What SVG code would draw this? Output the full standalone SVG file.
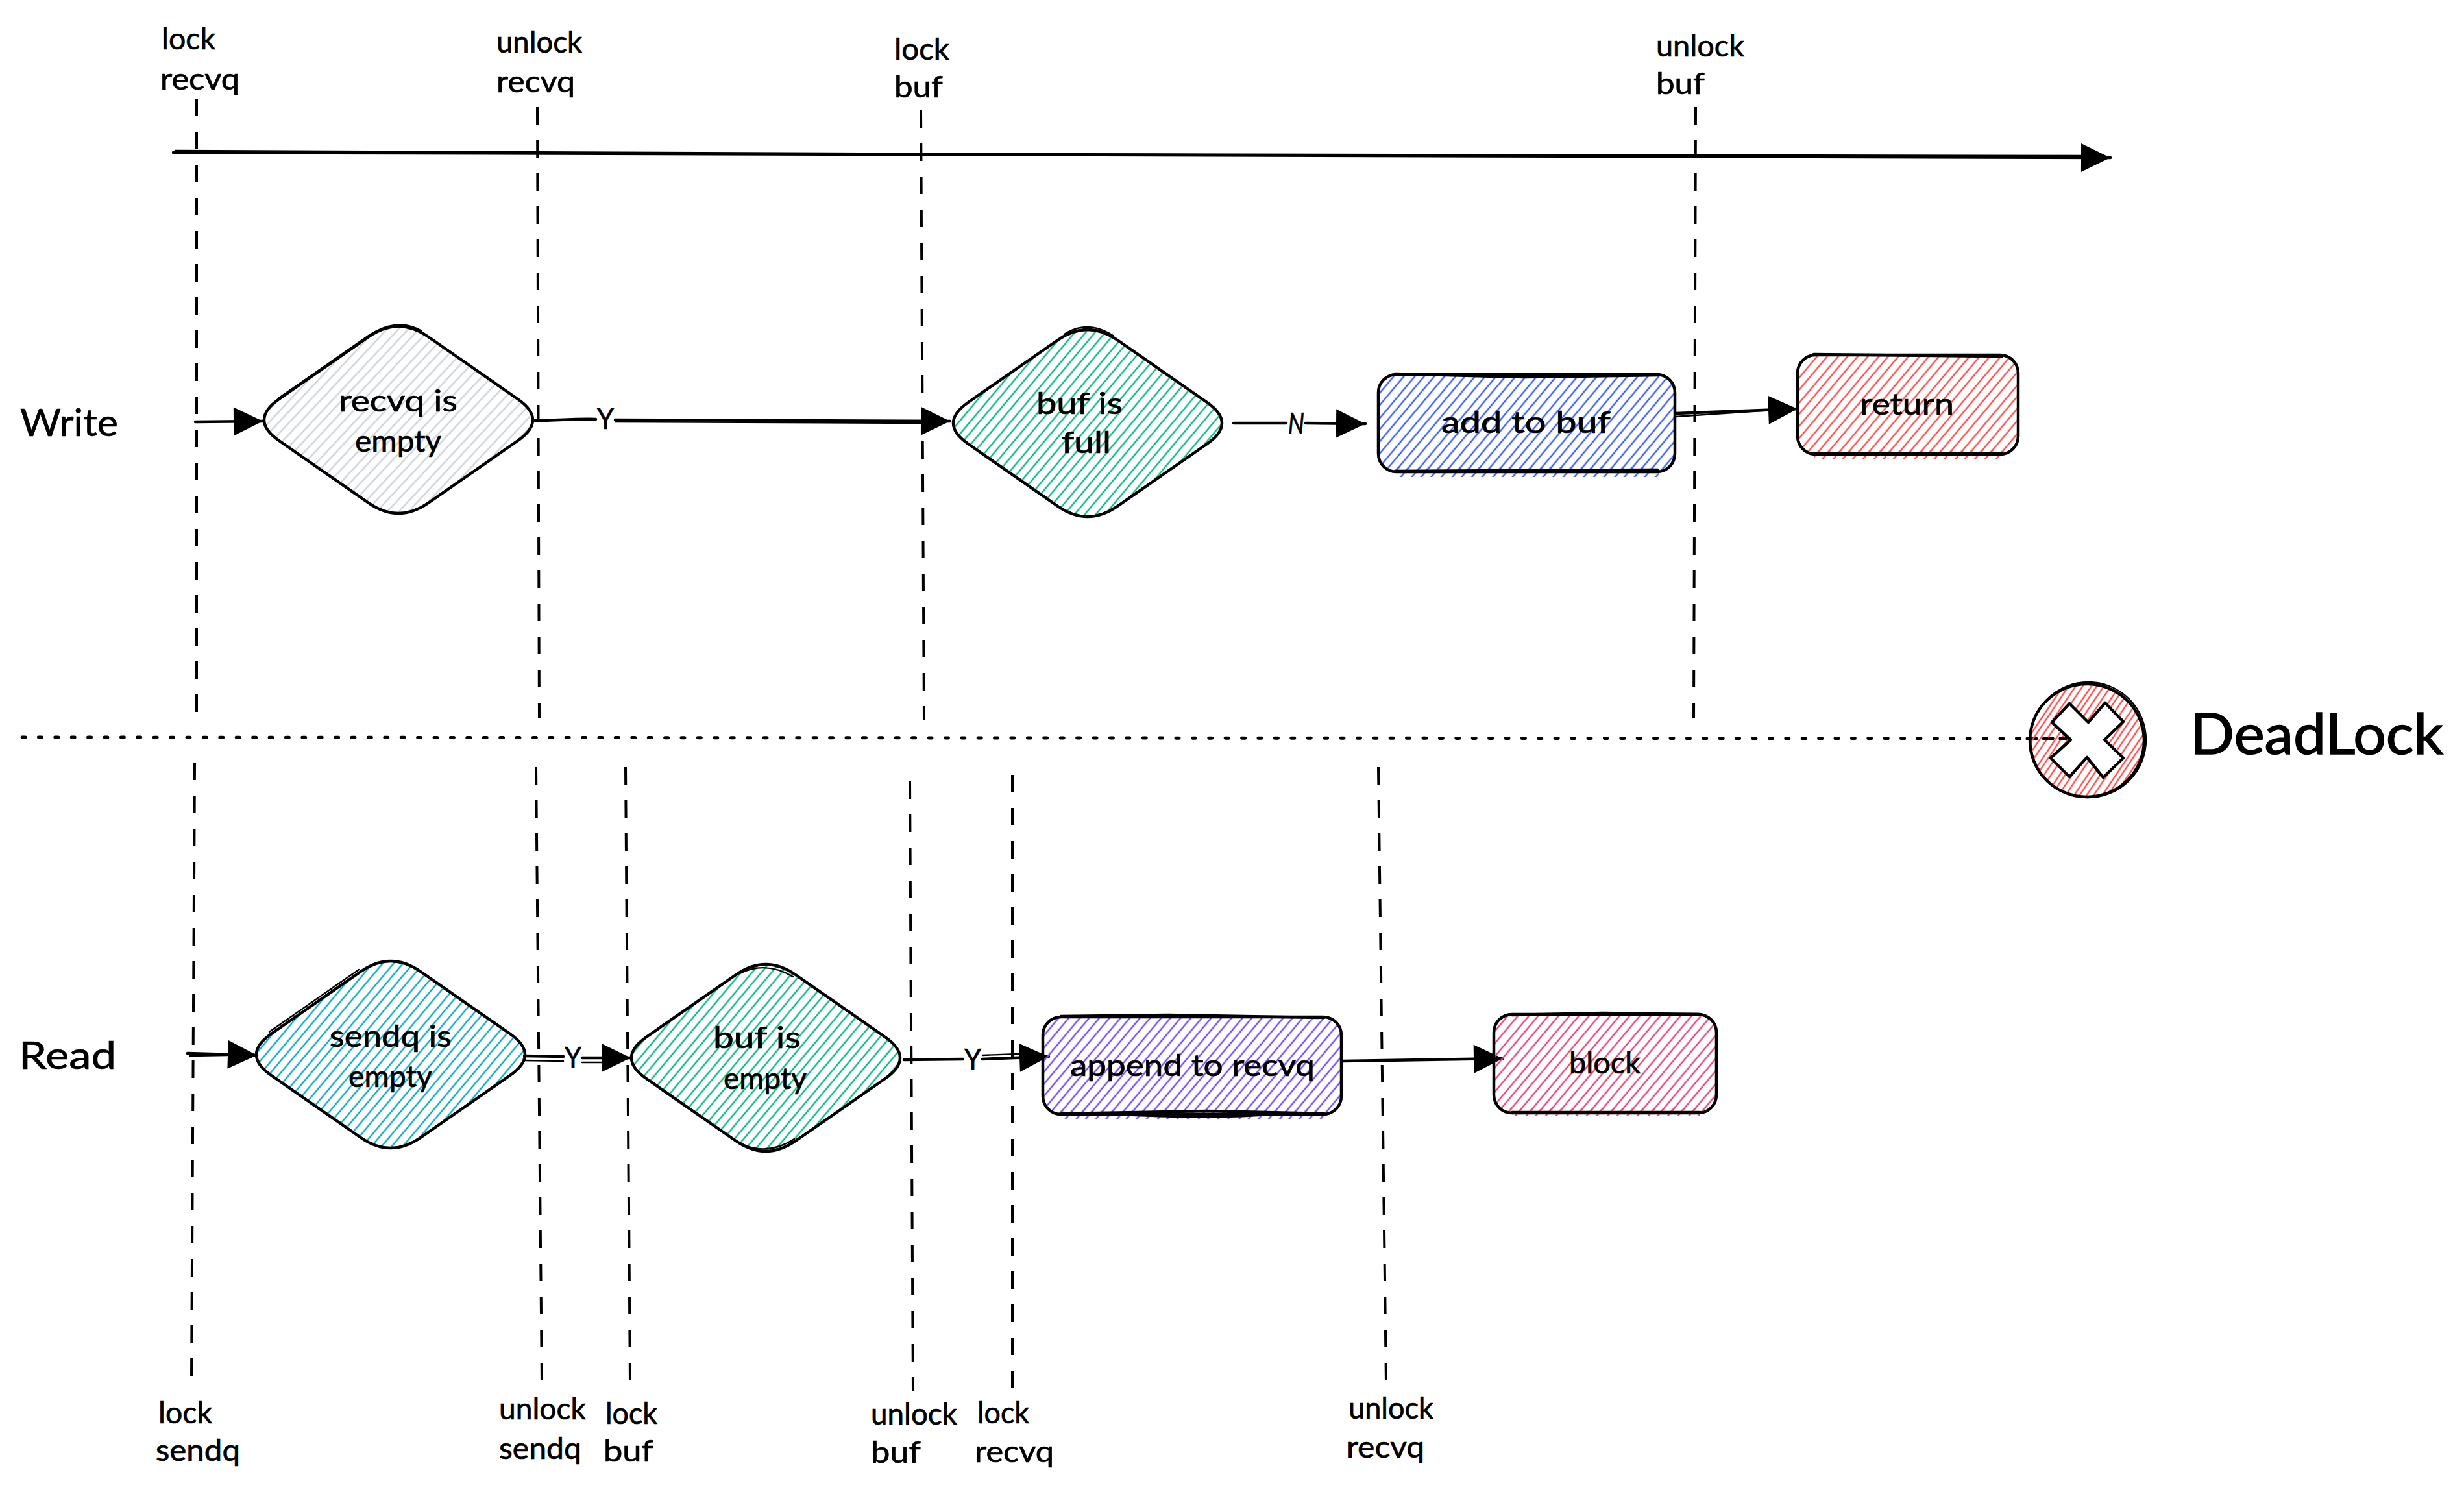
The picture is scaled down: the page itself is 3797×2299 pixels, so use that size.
<svg xmlns="http://www.w3.org/2000/svg" width="3797" height="2299" viewBox="0 0 3797 2299">
<style>
text{font-family:"Lato","Noto Sans",sans-serif;font-size:46px;fill:#000;stroke:#000;stroke-width:.7px;text-anchor:start}
.ink{fill:none;stroke:#000;stroke-width:4.5;stroke-linecap:round;stroke-linejoin:round}
.shape{stroke:#000;stroke-width:4.5;stroke-linejoin:round}
.thin{fill:none;stroke:#000;stroke-width:2.4;stroke-linecap:round;stroke-linejoin:round}
.dash{fill:none;stroke:#000;stroke-width:4;stroke-dasharray:27 24}
.dot{fill:none;stroke:#000;stroke-width:5;stroke-linecap:round;stroke-dasharray:5 20.4}
.arrow{fill:none;stroke:#000;stroke-width:4.5;stroke-linecap:round;marker-end:url(#head)}
.big{font-size:58px}
.huge{font-size:88px;stroke-width:1.6px}
.lab{font-size:44px}
</style>
<defs>
<marker id="head" markerUnits="userSpaceOnUse" markerWidth="48" markerHeight="46" refX="46" refY="23" orient="auto">
<path d="M1,1 L46,23 L1,45 Z" fill="#000"/>
</marker>
<pattern id="h-grey" width="48" height="48" patternUnits="userSpaceOnUse" patternTransform="rotate(-47)"><path d="M0,2H48M0,14H48M0,27H48M0,38H48" stroke="#ced4da" stroke-width="2.6"/></pattern>
<pattern id="h-green" width="48" height="48" patternUnits="userSpaceOnUse" patternTransform="rotate(-50)"><path d="M0,2H48M0,14H48M0,27H48M0,38H48" stroke="#12b886" stroke-width="2.6"/></pattern>
<pattern id="h-blue" width="48" height="48" patternUnits="userSpaceOnUse" patternTransform="rotate(-50)"><path d="M0,2H48M0,14H48M0,27H48M0,38H48" stroke="#4263eb" stroke-width="2.6"/></pattern>
<pattern id="h-red" width="48" height="48" patternUnits="userSpaceOnUse" patternTransform="rotate(-50)"><path d="M0,2H48M0,14H48M0,27H48M0,38H48" stroke="#fa5252" stroke-width="2.6"/></pattern>
<pattern id="h-cyan" width="48" height="48" patternUnits="userSpaceOnUse" patternTransform="rotate(-50)"><path d="M0,2H48M0,14H48M0,27H48M0,38H48" stroke="#15aabf" stroke-width="2.6"/></pattern>
<pattern id="h-violet" width="48" height="48" patternUnits="userSpaceOnUse" patternTransform="rotate(-50)"><path d="M0,2H48M0,14H48M0,27H48M0,38H48" stroke="#7950f2" stroke-width="2.6"/></pattern>
<pattern id="h-pink" width="48" height="48" patternUnits="userSpaceOnUse" patternTransform="rotate(-50)"><path d="M0,2H48M0,14H48M0,27H48M0,38H48" stroke="#e64980" stroke-width="2.6"/></pattern>
<pattern id="h-circle" width="36" height="36" patternUnits="userSpaceOnUse" patternTransform="rotate(-56)"><path d="M0,3H36M0,12H36M0,23H36M0,30H36" stroke="#fa5252" stroke-width="2.6"/></pattern>
</defs>
<rect width="3797" height="2299" fill="#fff"/>

<g id="connectors">
<path class="dash" d="M303,152L303,1102"/>
<path class="dash" d="M828,165L831,1107"/>
<path class="dash" d="M1419,170L1424,1110"/>
<path class="dash" d="M2613,165L2610,1107"/>
<path class="dash" d="M300,1175L295,2131"/>
<path class="dash" d="M826,1182L835,2131"/>
<path class="dash" d="M964,1182L971,2131"/>
<path class="dash" d="M1402,1204L1407,2143"/>
<path class="dash" d="M1560,1194L1560,2143"/>
<path class="dash" d="M2124,1182L2136,2131"/>
<path class="dot" d="M34,1136L3186,1138"/>
<path class="arrow" d="M267,235L3252,243"/>
<path class="thin" d="M270,232L1500,237L3220,240"/>
<path class="arrow" d="M301,650L405,649"/>
<path class="arrow" d="M823,648C850,648 890,645 918,646M948,647L1464,649"/>
<path class="thin" d="M948,650L1420,652"/>
<path class="arrow" d="M1901,652L1982,652M2012,652L2104,653"/>
<path class="arrow" d="M2582,637L2770,630"/>
<path class="thin" d="M2582,642L2730,632"/>
<path class="arrow" d="M289,1623L396,1626"/>
<path class="thin" d="M292,1627L350,1626"/>
<path class="arrow" d="M808,1627L868,1628M897,1630L972,1630"/>
<path class="thin" d="M808,1634L868,1635M897,1637L930,1637"/>
<path class="arrow" d="M1393,1633L1484,1632M1514,1632L1616,1628"/>
<path class="thin" d="M1514,1626L1570,1624"/>
<path class="arrow" d="M2070,1635L2316,1631"/>
</g>

<g id="timeline-labels">
<text x="249" y="76" textLength="83" lengthAdjust="spacingAndGlyphs">lock</text>
<text x="247" y="138" textLength="122" lengthAdjust="spacingAndGlyphs">recvq</text>
<text x="765" y="81" textLength="132" lengthAdjust="spacingAndGlyphs">unlock</text>
<text x="765" y="142" textLength="121" lengthAdjust="spacingAndGlyphs">recvq</text>
<text x="1378" y="92" textLength="85" lengthAdjust="spacingAndGlyphs">lock</text>
<text x="1378" y="150" textLength="75" lengthAdjust="spacingAndGlyphs">buf</text>
<text x="2552" y="87" textLength="136" lengthAdjust="spacingAndGlyphs">unlock</text>
<text x="2552" y="145" textLength="75" lengthAdjust="spacingAndGlyphs">buf</text>
<text x="244" y="2193" textLength="83" lengthAdjust="spacingAndGlyphs">lock</text>
<text x="240" y="2251" textLength="130" lengthAdjust="spacingAndGlyphs">sendq</text>
<text x="769" y="2187" textLength="134" lengthAdjust="spacingAndGlyphs">unlock</text>
<text x="769" y="2248" textLength="127" lengthAdjust="spacingAndGlyphs">sendq</text>
<text x="933" y="2194" textLength="80" lengthAdjust="spacingAndGlyphs">lock</text>
<text x="930" y="2252" textLength="77" lengthAdjust="spacingAndGlyphs">buf</text>
<text x="1342" y="2195" textLength="133" lengthAdjust="spacingAndGlyphs">unlock</text>
<text x="1342" y="2254" textLength="77" lengthAdjust="spacingAndGlyphs">buf</text>
<text x="1506" y="2193" textLength="80" lengthAdjust="spacingAndGlyphs">lock</text>
<text x="1502" y="2253" textLength="122" lengthAdjust="spacingAndGlyphs">recvq</text>
<text x="2078" y="2186" textLength="131" lengthAdjust="spacingAndGlyphs">unlock</text>
<text x="2075" y="2246" textLength="120" lengthAdjust="spacingAndGlyphs">recvq</text>
<text class="big" x="31" y="672" textLength="151" lengthAdjust="spacingAndGlyphs">Write</text>
<text class="big" x="29" y="1647" textLength="150" lengthAdjust="spacingAndGlyphs">Read</text>
</g>

<g id="edge-labels">
<text class="lab" x="920" y="661" textLength="26" lengthAdjust="spacingAndGlyphs">Y</text>
<text class="lab" x="1985" y="668" textLength="25" lengthAdjust="spacingAndGlyphs" font-style="italic">N</text>
<text class="lab" x="870" y="1645" textLength="26" lengthAdjust="spacingAndGlyphs">Y</text>
<text class="lab" x="1486" y="1648" textLength="26" lengthAdjust="spacingAndGlyphs">Y</text>
</g>

<g id="node-recvq-empty">
<path fill="url(#h-grey)" class="shape" d="M660,519l138,96q46,32 0,64l-138,96q-46,32 -92,0l-138,-96q-46,-32 0,-64l138,-96q46,-32 92,0z"/>
<path class="thin" d="M430,613L568,517Q612,488 650,510"/>
<text x="522" y="634" textLength="183" lengthAdjust="spacingAndGlyphs">recvq is</text>
<text x="547" y="696" textLength="133" lengthAdjust="spacingAndGlyphs">empty</text>
</g>

<g id="node-buf-full">
<path fill="url(#h-green)" class="shape" d="M1722,524l138,96q46,32 0,64l-138,96q-46,32 -92,0l-138,-96q-46,-32 0,-64l138,-96q46,-32 92,0z"/>
<path class="thin" d="M1640,515Q1676,492 1715,517"/>
<text x="1597" y="638" textLength="133" lengthAdjust="spacingAndGlyphs">buf is</text>
<text x="1636" y="698" textLength="76" lengthAdjust="spacingAndGlyphs">full</text>
</g>

<g id="node-add-to-buf">
<rect x="2149" y="720" width="407" height="15" fill="url(#h-blue)"/>
<rect x="2124" y="577" width="457" height="150" rx="28" fill="url(#h-blue)" class="shape"/>
<path class="ink" d="M2150,576L2350,581L2555,578"/>
<path class="ink" d="M2150,726L2555,724"/>
<text x="2221" y="667" textLength="261" lengthAdjust="spacingAndGlyphs">add to buf</text>
</g>

<g id="node-return">
<rect x="2795" y="693" width="290" height="14" fill="url(#h-red)"/>
<rect x="2770" y="547" width="340" height="153" rx="28" fill="url(#h-red)" class="shape"/>
<path class="ink" d="M2795,546L3085,549"/>
<path class="ink" d="M2795,699L3085,699"/>
<text x="2866" y="639" textLength="145" lengthAdjust="spacingAndGlyphs">return</text>
</g>

<g id="node-sendq-empty">
<path fill="url(#h-cyan)" class="shape" d="M648,1497l138,96q46,32 0,64l-138,96q-46,32 -92,0l-138,-96q-46,-32 0,-64l138,-96q46,-32 92,0z"/>
<path class="thin" d="M415,1590L553,1494"/>
<text x="508" y="1613" textLength="188" lengthAdjust="spacingAndGlyphs">sendq is</text>
<text x="537" y="1675" textLength="129" lengthAdjust="spacingAndGlyphs">empty</text>
</g>

<g id="node-buf-empty">
<path fill="url(#h-green)" class="shape" d="M1226,1502l138,96q46,32 0,64l-138,96q-46,32 -92,0l-138,-96q-46,-32 0,-64l138,-96q46,-32 92,0z"/>
<path class="thin" d="M1140,1500Q1180,1480 1222,1505M1142,1762Q1182,1782 1224,1755"/>
<text x="1099" y="1615" textLength="135" lengthAdjust="spacingAndGlyphs">buf is</text>
<text x="1115" y="1678" textLength="128" lengthAdjust="spacingAndGlyphs">empty</text>
</g>

<g id="node-append-to-recvq">
<rect x="1632" y="1710" width="410" height="14" fill="url(#h-violet)"/>
<rect x="1607" y="1567" width="460" height="150" rx="28" fill="url(#h-violet)" class="shape"/>
<path class="ink" d="M1635,1566L1800,1564L2040,1568"/>
<path class="ink" d="M1635,1716L1860,1712L2040,1716"/>
<path class="thin" d="M1690,1716Q1860,1726 1970,1717"/>
<text x="1649" y="1658" textLength="377" lengthAdjust="spacingAndGlyphs">append to recvq</text>
</g>

<g id="node-block">
<rect x="2327" y="1708" width="293" height="12" fill="url(#h-pink)"/>
<rect x="2302" y="1563" width="343" height="152" rx="28" fill="url(#h-pink)" class="shape"/>
<path class="ink" d="M2330,1564L2470,1561L2620,1563"/>
<path class="ink" d="M2330,1714L2620,1714"/>
<text x="2418" y="1654" textLength="110" lengthAdjust="spacingAndGlyphs">block</text>
</g>

<g id="node-deadlock">
<ellipse cx="3216" cy="1141" rx="88" ry="87" fill="url(#h-circle)" class="shape"/>
<ellipse cx="3218" cy="1140" rx="89" ry="89" class="thin"/>
<polygon points="3189,1084 3218,1113 3244,1083 3272,1112 3243,1140 3272,1168 3241,1198 3216,1167 3189,1197 3160,1168 3191,1140 3162,1113" fill="#fff" class="shape"/>
<path class="dot" d="M3124,1138L3186,1138"/>
<text class="huge" x="3375" y="1162" textLength="390" lengthAdjust="spacingAndGlyphs">DeadLock</text>
</g>
</svg>
